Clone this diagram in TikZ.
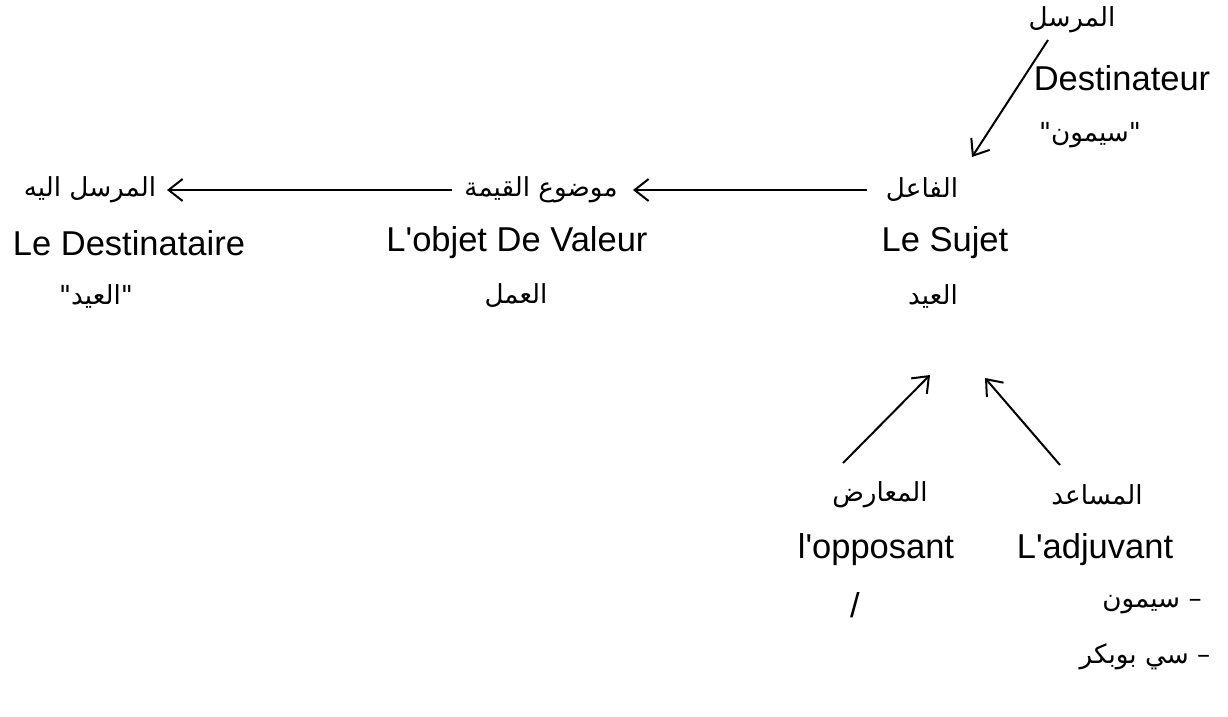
\documentclass[tikz,border=0pt]{standalone}
\usepackage{fontspec}
\usetikzlibrary{arrows.meta}
\TeXXeTstate=1
\newfontfamily\lat{Liberation Sans}
\newfontfamily\arabicfont[Script=Arabic,Scale=0.76]{DejaVu Sans}
\newcommand{\ar}[1]{{\arabicfont\beginR #1\endR}}
\tikzset{
  lbl/.style={inner sep=0pt, anchor=center, font=\lat\fontsize{34.5}{40}\selectfont},
  arr/.style={line width=2pt, -{Straight Barb[length=14pt,width=22pt,line width=2pt]}}
}
\begin{document}
\begin{tikzpicture}[x=1pt,y=-1pt]
\useasboundingbox (0,0) rectangle (1228,716);
% sender
\node[lbl] (mursil) at (1072,20) {\ar{المرسل}};
\node[lbl] (destinateur) at (1122,78) {Destinateur};
\node[lbl] (simon) at (1090,135) {\ar{"سيمون"}};
% subject
\node[lbl] (faail) at (922,190) {\ar{الفاعل}};
\node[lbl] (sujet) at (945,243) {Le Sujet};
\node[lbl] (eid) at (933,296) {\ar{العيد}};
% object of value
\node[lbl] (mawdu) at (541,190) {\ar{موضوع القيمة}};
\node[lbl] (objet) at (517,243) {L'objet De Valeur};
\node[lbl] (amal) at (516,296) {\ar{العمل}};
% receiver
\node[lbl] (ilayh) at (90,190) {\ar{المرسل اليه}};
\node[lbl] (destinataire) at (129,243) {Le Destinataire};
\node[lbl] (eidq) at (96,296) {\ar{"العيد"}};
% opponent
\node[lbl] (muarid) at (880,495) {\ar{المعارض}};
\node[lbl] (opposant) at (876,550) {l'opposant};
\node[lbl] (slash) at (855,605) {/};
% helper
\node[lbl] (musaid) at (1097,495) {\ar{المساعد}};
\node[lbl] (adjuvant) at (1095,550) {L'adjuvant};
\node[lbl] (simon2) at (1152,605) {\ar{– سيمون}};
\node[lbl] (boubakr) at (1145,657) {\ar{– سي بوبكر}};
% connectors
\draw[arr] ([shift={(-24,20)}]mursil.center) -- ([shift={(50,-33)}]faail.center);
\draw[arr] ([shift={(-55,0)}]faail.center) -- ([shift={(92,0)}]mawdu.center);
\draw[arr] ([shift={(-89,0)}]mawdu.center) -- ([shift={(77,0)}]ilayh.center);
\draw[arr] ([shift={(-37,-32)}]muarid.center) -- ([shift={(-3,79)}]eid.center);
\draw[arr] ([shift={(-37,-30)}]musaid.center) -- ([shift={(52,82)}]eid.center);
\end{tikzpicture}
\end{document}
